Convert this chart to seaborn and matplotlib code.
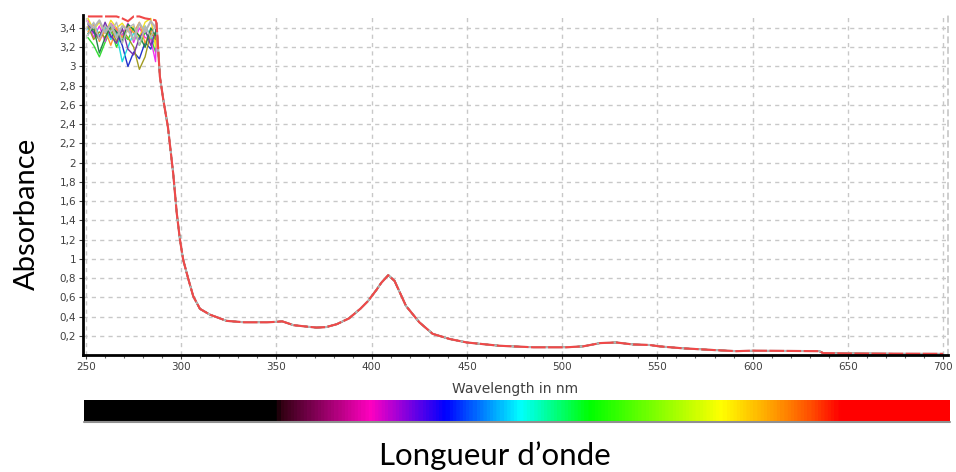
import numpy as np
import pandas as pd
import matplotlib
matplotlib.use("Agg")
import matplotlib.pyplot as plt
import seaborn as sns
from matplotlib.colors import LinearSegmentedColormap
from matplotlib.ticker import FuncFormatter, MultipleLocator

# ---- data ----
wl_top = [251, 254, 257, 260, 263, 266, 269, 272, 275, 278, 281, 284, 286.5]
top_red = [3.52, 3.52, 3.52, 3.52, 3.52, 3.52, 3.50, 3.47, 3.52, 3.52, 3.50, 3.49, 3.48]
top_gray = [3.45, 3.40, 3.48, 3.35, 3.44, 3.30, 3.42, 3.38, 3.28, 3.45, 3.36, 3.47, 3.40]
top_gray2 = [3.32, 3.46, 3.28, 3.42, 3.36, 3.46, 3.24, 3.40, 3.44, 3.22, 3.42, 3.30, 3.44]
top_green = [3.30, 3.22, 3.10, 3.25, 3.38, 3.20, 3.34, 3.28, 3.40, 3.22, 3.35, 3.30, 3.15]
top_blue = [3.40, 3.35, 3.28, 3.42, 3.30, 3.36, 3.22, 3.00, 3.15, 3.08, 3.25, 3.18, 3.35]
top_magenta = [3.48, 3.30, 3.42, 3.26, 3.45, 3.38, 3.32, 3.45, 3.25, 3.40, 3.30, 3.28, 3.05]
top_cyan = [3.38, 3.45, 3.32, 3.40, 3.28, 3.34, 3.05, 3.20, 3.35, 3.28, 3.42, 3.32, 3.25]
top_yellow = [3.50, 3.38, 3.46, 3.34, 3.48, 3.40, 3.45, 3.36, 3.42, 3.30, 3.46, 3.50, 3.20]
top_orange = [3.36, 3.44, 3.26, 3.38, 3.22, 3.40, 3.30, 3.42, 3.35, 3.46, 3.24, 3.38, 3.30]
top_olive = [3.42, 3.28, 3.36, 3.30, 3.40, 3.26, 3.38, 3.30, 3.20, 2.97, 3.10, 3.35, 3.28]
top_purple = [3.44, 3.36, 3.30, 3.46, 3.32, 3.24, 3.40, 3.18, 3.12, 3.30, 3.38, 3.22, 3.36]
top_dkgreen = [3.34, 3.40, 3.14, 3.30, 3.42, 3.36, 3.26, 3.44, 3.38, 3.32, 3.20, 3.40, 3.32]

wl_base = [287, 288.8, 290.6, 293, 295.8, 297.6, 299.3, 301, 303.7, 306.3, 309.8, 315,
           323.8, 333, 345, 350, 353, 359, 366, 371, 376, 381.6, 388, 394, 398, 402.6,
           405, 408.7, 412, 418, 425, 432, 441, 450, 467, 485, 502, 511, 520, 528.5,
           537, 546, 551, 563, 581, 591.5, 600, 635, 637, 650, 700]
abs_base = [3.45, 2.89, 2.65, 2.37, 1.88, 1.48, 1.20, 0.99, 0.79, 0.61, 0.48, 0.42,
            0.355, 0.34, 0.34, 0.345, 0.35, 0.31, 0.295, 0.285, 0.29, 0.32, 0.38, 0.48, 0.56, 0.68,
            0.75, 0.83, 0.77, 0.51, 0.34, 0.22, 0.166, 0.13, 0.096, 0.08, 0.08, 0.09, 0.124, 0.13,
            0.11, 0.104, 0.09, 0.07, 0.05, 0.04, 0.045, 0.04, 0.02, 0.015, 0.012]

series_tops = {
    "green": top_green, "blue": top_blue, "magenta": top_magenta, "cyan": top_cyan,
    "yellow": top_yellow, "orange": top_orange, "olive": top_olive,
    "purple": top_purple, "dkgreen": top_dkgreen, "gray2": top_gray2,
    "gray": top_gray, "red": top_red,
}
series_colors = {
    "green": "#33dd33", "blue": "#2233cc", "magenta": "#ee33ee", "cyan": "#22dddd",
    "yellow": "#f0e020", "orange": "#ff9933", "olive": "#a09a20",
    "purple": "#7733aa", "dkgreen": "#228844", "gray2": "#b8b8b8",
    "gray": "#b4b4b4", "red": "#f04848",
}

x_ticks = [250, 300, 350, 400, 450, 500, 550, 600, 650, 700]
y_ticks = [0.2, 0.4, 0.6, 0.8, 1.0, 1.2, 1.4, 1.6, 1.8, 2.0, 2.2, 2.4, 2.6, 2.8, 3.0, 3.2, 3.4]

spec_pos = [0.0, 0.221, 0.225, 0.33, 0.417, 0.504, 0.585, 0.737, 0.80, 0.84, 0.875, 1.0]
spec_col = ["#000000", "#000000", "#300010", "#ff00c0", "#0000ff", "#00ffff", "#00ff00",
            "#ffff00", "#ff9900", "#ff5000", "#ff0000", "#ff0000"]

# ---- build frame ----
rows = []
for name, top in series_tops.items():
    for w, a in zip(wl_top + wl_base, top + abs_base):
        rows.append((name, w, a))
df = pd.DataFrame(rows, columns=["series", "wl", "A"])

sns.set_theme(style="white")
plt.rcParams["font.family"] = ["DejaVu Sans"]

fig = plt.figure(figsize=(9.56, 4.72), dpi=100)
ax = fig.add_axes([83/956, 1-355/472, (948-83)/956, (355-15)/472])

others = [n for n in series_tops if n not in ("gray", "red")]
sns.lineplot(data=df[df.series.isin(others)], x="wl", y="A", hue="series",
             palette=series_colors, hue_order=others, sort=False, estimator=None,
             linewidth=1.0, legend=False, ax=ax)
sns.lineplot(data=df[df.series == "gray"], x="wl", y="A", color=series_colors["gray"],
             sort=False, estimator=None, linewidth=1.5, legend=False, ax=ax)
sns.lineplot(data=df[df.series == "red"], x="wl", y="A", color=series_colors["red"],
             sort=False, estimator=None, linewidth=1.5, legend=False, ax=ax,
             dashes=False)
ax.lines[-1].set_dashes([7, 1.2])

ax.set_xlim(248.4, 702.6)
ax.set_ylim(0, 3.535)
ax.set_xticks(x_ticks)
ax.set_yticks(y_ticks)
ax.xaxis.set_minor_locator(MultipleLocator(10))
ax.yaxis.set_major_formatter(FuncFormatter(lambda v, p: f"{v:.1f}".rstrip("0").rstrip(".").replace(".", ",")))
ax.grid(True, which="major", color="#c8c8c8", linestyle=(0, (3, 3)), linewidth=1)
ax.tick_params(axis="both", which="major", labelsize=7.5, labelcolor="#404040",
               length=3, width=0.8, color="#404040", bottom=True, left=True, pad=2)
ax.tick_params(axis="x", which="minor", length=2, width=0.8, color="#606060", bottom=True)
ax.spines["top"].set_visible(False)
ax.spines["right"].set_color("#c8c8c8")
ax.spines["right"].set_linestyle((0, (3, 3)))
ax.spines["left"].set_color("black")
ax.spines["left"].set_linewidth(2)
ax.spines["bottom"].set_color("black")
ax.spines["bottom"].set_linewidth(2)
ax.set_xlabel("Wavelength in nm", fontsize=10, color="#404040", labelpad=7)
ax.set_ylabel("")
fig.text(27/956, 1-214/472, "Absorbance", rotation=90, ha="center", va="center",
         fontsize=21, family="Lato", color="black")

# spectrum bar
bax = fig.add_axes([84/956, 1-421/472, (950-84)/956, 21/472])
cmap = LinearSegmentedColormap.from_list("spec", list(zip(spec_pos, spec_col)))
bax.imshow(np.linspace(0, 1, 800)[None, :], aspect="auto", cmap=cmap, extent=(0, 1, 0, 1))
bax.set_xlim(0, 1)
bax.set_ylim(0, 1)
bax.axis("off")
fig.add_artist(plt.Line2D([84/956, 950/956], [1-422/472, 1-422/472], color="#909090", linewidth=1.5))

fig.text(495/956, 1-456/472, "Longueur d\u2019onde", ha="center", va="center",
         fontsize=22.5, family="Lato", color="black")

fig.savefig("out.png", dpi=100)
